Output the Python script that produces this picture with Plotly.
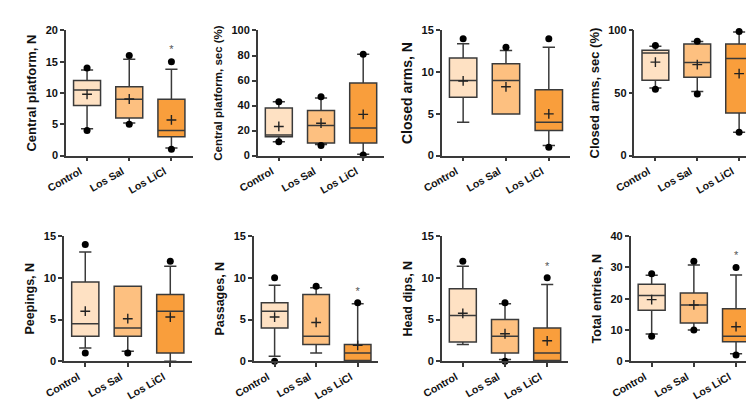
import plotly.graph_objects as go

W, H = 754, 400

GROUPS = ["Control", "Los Sal", "Los LiCl"]
FILLS = ["#FEE1C3", "#FDC080", "#F99E3C"]
LINE = "#3a3a3a"

TITLES = [
    "Central platform, N", "Central platform, sec (%)", "Closed arms, N",
    "Closed arms, sec (%)", "Peepings, N", "Passages, N", "Head dips, N",
    "Total entries, N",
]
Y_MAX = [20, 100, 15, 100, 15, 15, 15, 40]
Y_DTICK = [5, 20, 5, 50, 5, 5, 5, 10]

# per panel: values for Control, Los Sal, Los LiCl
Q1 = [[8, 6, 3], [15, 10, 10], [7, 5, 3], [60.3, 62.6, 34],
      [3, 3, 1], [4, 2, 0.1], [2.3, 1, 0.1], [16.3, 12.2, 6.2]]
MEDIAN = [[10.5, 9, 4], [16.5, 24, 22], [9, 9, 4], [82, 74.5, 77.6],
          [4.5, 4, 6], [6, 3, 1], [5.5, 3, 1], [21, 18, 8]]
Q3 = [[12, 11, 9], [38, 36, 58], [11.7, 11, 7.9], [84.3, 89.2, 89.2],
      [9.5, 9, 8], [7, 8, 2], [8.7, 5, 4], [24.6, 21.8, 16.8]]
WHISK_LO = [[4.3, 5.2, 1.2], [11, 8.8, 1], [4, 5, 1.2], [54, 51.3, 18.6],
            [1.6, 1.2, 0], [0.6, 1, 0], [2, 0.2, 0], [8.7, 10, 2.4]]
WHISK_HI = [[13.7, 15.4, 13.8], [43, 46, 81], [13.4, 12.6, 13], [87.4, 91.2, 98.7],
            [13.1, 9, 11.4], [9.1, 8.8, 6.9], [11.4, 6.9, 9.2], [27.5, 30.8, 27.6]]
MEAN = [[9.8, 9.05, 5.7], [23.3, 25.9, 33], [8.95, 8.25, 5], [74.7, 72.7, 65.5],
        [6, 5.1, 5.3], [5.3, 4.65, 1.9], [5.75, 3.3, 2.45], [19.7, 18, 11.05]]
DOT_LO = [[4, 5, 1], [11, 8, 0.5], [None, None, 1], [53, 49.2, 18.6],
          [1, 1, None], [0, None, None], [None, 0, None], [8, 10, 2]]
DOT_HI = [[14, 16, 15], [43, 47, 81], [14, 13, 14], [88, 91.4, 99.2],
          [14, None, 12], [10, 9, 7], [12, 7, 10], [28, 32, 30]]
STAR = [[None, None, 16.8], [None, None, None], [None, None, 15.4], [None, None, None],
        [None, None, None], [None, None, 8.3], [None, None, 11.3], [None, None, 33.5]]

# panel frames in pixels: (left, right, top, bottom)
FRAMES = [
    (39, 169, 17, 146), (236, 366, 17, 146), (425, 557, 17, 146), (623, 752, 17, 146),
    (37, 168, 229, 358), (232, 360, 229, 358), (425, 555, 229, 358), (619, 749, 229, 358),
]
TITLE_SIZES = [13, 11.5, 14, 13, 12.5, 12.5, 12.5, 12.5]

FONT = "Arial, Liberation Sans, sans-serif"

fig = go.Figure()
layout = {}
for p in range(8):
    sfx = "" if p == 0 else str(p + 1)
    xa, ya = "x" + sfx, "y" + sfx
    for g, name in enumerate(GROUPS):
        fig.add_trace(go.Box(
            x=[name], q1=[Q1[p][g]], median=[MEDIAN[p][g]], q3=[Q3[p][g]],
            lowerfence=[WHISK_LO[p][g]], upperfence=[WHISK_HI[p][g]],
            fillcolor=FILLS[g], line={"color": LINE, "width": 1.5},
            width=0.64, whiskerwidth=0.45, boxpoints=False,
            xaxis=xa, yaxis=ya, showlegend=False, hoverinfo="skip",
        ))
    dx, dy = [], []
    for g, name in enumerate(GROUPS):
        for v in (DOT_LO[p][g], DOT_HI[p][g]):
            if v is not None:
                dx.append(name)
                dy.append(v)
    fig.add_trace(go.Scatter(
        x=dx, y=dy, mode="markers", cliponaxis=False,
        marker={"color": "black", "size": 7},
        xaxis=xa, yaxis=ya, showlegend=False, hoverinfo="skip",
    ))
    fig.add_trace(go.Scatter(
        x=GROUPS, y=MEAN[p], mode="markers", cliponaxis=False,
        marker={"symbol": "cross-thin", "size": 7,
                "line": {"color": "#222222", "width": 1.4}},
        xaxis=xa, yaxis=ya, showlegend=False, hoverinfo="skip",
    ))
    sx = [GROUPS[g] for g in range(3) if STAR[p][g] is not None]
    sy = [STAR[p][g] for g in range(3) if STAR[p][g] is not None]
    if sx:
        fig.add_trace(go.Scatter(
            x=sx, y=sy, mode="text", text=["*"] * len(sx), cliponaxis=False,
            textfont={"family": FONT, "size": 11, "color": "#555555"},
            xaxis=xa, yaxis=ya, showlegend=False, hoverinfo="skip",
        ))

    left, right, top, bottom = FRAMES[p]
    layout["xaxis" + sfx] = dict(
        domain=[left / W, right / W], anchor=ya,
        type="category", categoryorder="array", categoryarray=GROUPS,
        range=[-0.5, 2.5], showline=True, linecolor=LINE, linewidth=1.5,
        ticks="outside", ticklen=4, tickwidth=1.5, tickcolor=LINE,
        tickangle=-30, ticklabelshift=-7, showgrid=False, zeroline=False,
        tickfont={"family": FONT, "size": 10.5, "color": "#111111", "weight": "bold"},
    )
    layout["yaxis" + sfx] = dict(
        domain=[1 - bottom / H, 1 - top / H], anchor=xa,
        range=[0, Y_MAX[p]], dtick=Y_DTICK[p], tick0=0,
        showline=True, linecolor=LINE, linewidth=1.5,
        ticks="outside", ticklen=4, tickwidth=1.5, tickcolor=LINE,
        showgrid=False, zeroline=False,
        tickfont={"family": FONT, "size": 11, "color": "#111111", "weight": "bold"},
        title={"text": TITLES[p], "standoff": 6,
               "font": {"family": FONT, "size": TITLE_SIZES[p], "color": "#111111",
                        "weight": "bold"}},
    )

fig.update_layout(
    width=W, height=H, margin={"l": 0, "r": 0, "t": 0, "b": 0},
    paper_bgcolor="white", plot_bgcolor="white", boxmode="overlay",
    **layout,
)
fig.write_html("out.html")
